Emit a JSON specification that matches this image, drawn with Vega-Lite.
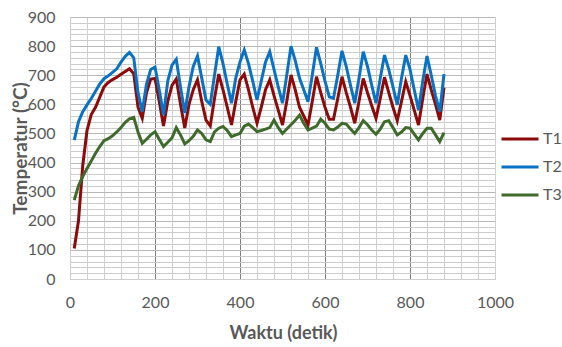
{
  "$schema": "https://vega.github.io/schema/vega-lite/v6.json",
  "width": 425,
  "height": 262,
  "autosize": {"type": "none"},
  "padding": {"left": 70, "top": 17, "right": 67, "bottom": 68},
  "background": "white",
  "config": {
    "view": {"stroke": null},
    "font": "Lato",
    "axis": {"labelFont": "Lato", "titleFont": "Lato"}
  },
  "data": {
    "values": [
      {"t": 10, "T1": 105, "T2": 477, "T3": 271},
      {"t": 20, "T1": 200, "T2": 540, "T3": 320},
      {"t": 30, "T1": 390, "T2": 575, "T3": 352},
      {"t": 40, "T1": 510, "T2": 598, "T3": 380},
      {"t": 50, "T1": 565, "T2": 620, "T3": 405},
      {"t": 60, "T1": 590, "T2": 645, "T3": 432},
      {"t": 70, "T1": 625, "T2": 670, "T3": 455},
      {"t": 80, "T1": 660, "T2": 688, "T3": 475},
      {"t": 90, "T1": 675, "T2": 698, "T3": 482},
      {"t": 100, "T1": 685, "T2": 710, "T3": 492},
      {"t": 110, "T1": 693, "T2": 722, "T3": 505},
      {"t": 120, "T1": 703, "T2": 745, "T3": 520},
      {"t": 130, "T1": 713, "T2": 765, "T3": 538},
      {"t": 140, "T1": 722, "T2": 778, "T3": 550},
      {"t": 150, "T1": 705, "T2": 760, "T3": 555},
      {"t": 160, "T1": 590, "T2": 640, "T3": 505},
      {"t": 170, "T1": 552, "T2": 575, "T3": 466},
      {"t": 180, "T1": 640, "T2": 670, "T3": 480},
      {"t": 190, "T1": 687, "T2": 720, "T3": 495},
      {"t": 200, "T1": 689, "T2": 728, "T3": 506},
      {"t": 210, "T1": 610, "T2": 650, "T3": 480},
      {"t": 220, "T1": 526, "T2": 563, "T3": 455},
      {"t": 230, "T1": 610, "T2": 680, "T3": 470},
      {"t": 240, "T1": 665, "T2": 735, "T3": 485},
      {"t": 250, "T1": 687, "T2": 755, "T3": 520},
      {"t": 260, "T1": 600, "T2": 660, "T3": 495},
      {"t": 270, "T1": 519, "T2": 570, "T3": 464},
      {"t": 280, "T1": 600, "T2": 660, "T3": 475},
      {"t": 290, "T1": 650, "T2": 730, "T3": 490},
      {"t": 300, "T1": 684, "T2": 766, "T3": 512},
      {"t": 310, "T1": 610, "T2": 690, "T3": 500},
      {"t": 320, "T1": 546, "T2": 615, "T3": 478},
      {"t": 330, "T1": 526, "T2": 600, "T3": 472},
      {"t": 340, "T1": 620, "T2": 700, "T3": 505},
      {"t": 350, "T1": 704, "T2": 798, "T3": 518},
      {"t": 360, "T1": 650, "T2": 740, "T3": 524},
      {"t": 370, "T1": 590, "T2": 670, "T3": 510},
      {"t": 380, "T1": 529, "T2": 604, "T3": 489},
      {"t": 390, "T1": 610, "T2": 690, "T3": 495},
      {"t": 400, "T1": 684, "T2": 746, "T3": 500},
      {"t": 410, "T1": 704, "T2": 787, "T3": 525},
      {"t": 420, "T1": 650, "T2": 740, "T3": 532},
      {"t": 430, "T1": 590, "T2": 680, "T3": 520},
      {"t": 440, "T1": 535, "T2": 615, "T3": 506},
      {"t": 450, "T1": 590, "T2": 680, "T3": 510},
      {"t": 460, "T1": 650, "T2": 745, "T3": 515},
      {"t": 470, "T1": 684, "T2": 781, "T3": 520},
      {"t": 480, "T1": 630, "T2": 720, "T3": 546},
      {"t": 490, "T1": 580, "T2": 660, "T3": 520},
      {"t": 500, "T1": 529, "T2": 604, "T3": 500},
      {"t": 510, "T1": 610, "T2": 700, "T3": 515},
      {"t": 520, "T1": 701, "T2": 800, "T3": 530},
      {"t": 530, "T1": 650, "T2": 750, "T3": 545},
      {"t": 540, "T1": 590, "T2": 690, "T3": 563},
      {"t": 550, "T1": 560, "T2": 650, "T3": 535},
      {"t": 560, "T1": 529, "T2": 609, "T3": 512},
      {"t": 570, "T1": 610, "T2": 700, "T3": 518},
      {"t": 580, "T1": 695, "T2": 796, "T3": 525},
      {"t": 590, "T1": 640, "T2": 740, "T3": 549},
      {"t": 600, "T1": 590, "T2": 680, "T3": 535},
      {"t": 610, "T1": 549, "T2": 626, "T3": 515},
      {"t": 620, "T1": 549, "T2": 621, "T3": 512},
      {"t": 630, "T1": 620, "T2": 700, "T3": 522},
      {"t": 640, "T1": 695, "T2": 784, "T3": 535},
      {"t": 650, "T1": 640, "T2": 730, "T3": 532},
      {"t": 660, "T1": 590, "T2": 665, "T3": 515},
      {"t": 670, "T1": 535, "T2": 604, "T3": 500},
      {"t": 680, "T1": 610, "T2": 690, "T3": 520},
      {"t": 690, "T1": 689, "T2": 781, "T3": 544},
      {"t": 700, "T1": 640, "T2": 730, "T3": 530},
      {"t": 710, "T1": 595, "T2": 665, "T3": 512},
      {"t": 720, "T1": 552, "T2": 604, "T3": 497},
      {"t": 730, "T1": 620, "T2": 690, "T3": 515},
      {"t": 740, "T1": 693, "T2": 769, "T3": 540},
      {"t": 750, "T1": 640, "T2": 720, "T3": 544},
      {"t": 760, "T1": 590, "T2": 660, "T3": 520},
      {"t": 770, "T1": 544, "T2": 598, "T3": 495},
      {"t": 780, "T1": 610, "T2": 690, "T3": 505},
      {"t": 790, "T1": 678, "T2": 769, "T3": 520},
      {"t": 800, "T1": 630, "T2": 720, "T3": 518},
      {"t": 810, "T1": 580, "T2": 650, "T3": 498},
      {"t": 820, "T1": 529, "T2": 580, "T3": 478},
      {"t": 830, "T1": 620, "T2": 680, "T3": 500},
      {"t": 840, "T1": 704, "T2": 766, "T3": 518},
      {"t": 850, "T1": 650, "T2": 700, "T3": 518},
      {"t": 860, "T1": 600, "T2": 630, "T3": 495},
      {"t": 870, "T1": 546, "T2": 575, "T3": 472},
      {"t": 880, "T1": 658, "T2": 704, "T3": 503}
    ]
  },
  "transform": [{"fold": ["T1", "T2", "T3"], "as": ["series", "value"]}],
  "mark": {"type": "line", "strokeWidth": 3, "strokeJoin": "miter", "strokeMiterLimit": 4},
  "encoding": {
    "x": {
      "field": "t",
      "type": "quantitative",
      "scale": {"domain": [0, 1000], "nice": false, "zero": true},
      "axis": {
        "title": "Waktu (detik)",
        "values": [0, 40, 80, 120, 160, 200, 240, 280, 320, 360, 400, 440, 480, 520, 560, 600, 640, 680, 720, 760, 800, 840, 880, 920, 960, 1000],
        "labelExpr": "datum.value % 200 === 0 ? datum.label : ''",
        "format": "d",
        "grid": true,
        "gridColor": {"condition": {"test": "datum.value % 200 === 0 && datum.value > 0 && datum.value < 1000", "value": "#808080"}, "value": "#cfcfcf"},
        "gridWidth": 1,
        "domain": true,
        "domainColor": "#cfcfcf",
        "ticks": false,
        "labelFontSize": 16,
        "labelColor": "#595959",
        "labelPadding": 15,
        "labelFlush": false,
        "labelOverlap": false,
        "titleFontSize": 18,
        "titleFontWeight": "bold",
        "titleColor": "#595959",
        "titleX": 213,
        "titleY": 54,
        "titleBaseline": "middle",
        "titleAlign": "center"
      }
    },
    "y": {
      "field": "value",
      "type": "quantitative",
      "scale": {"domain": [0, 900], "nice": false},
      "axis": {
        "title": "Temperatur (°C)",
        "values": [0, 20, 40, 60, 80, 100, 120, 140, 160, 180, 200, 220, 240, 260, 280, 300, 320, 340, 360, 380, 400, 420, 440, 460, 480, 500, 520, 540, 560, 580, 600, 620, 640, 660, 680, 700, 720, 740, 760, 780, 800, 820, 840, 860, 880, 900],
        "labelExpr": "datum.value % 100 === 0 ? datum.label : ''",
        "format": "d",
        "grid": true,
        "gridColor": {"condition": {"test": "datum.value % 100 === 0", "value": "#b8b8b8"}, "value": "#cccccc"},
        "gridWidth": 1,
        "domain": true,
        "domainColor": "#cfcfcf",
        "ticks": false,
        "labelFontSize": 16,
        "labelColor": "#595959",
        "labelPadding": 15,
        "labelOverlap": false,
        "labelFlush": false,
        "titleFontSize": 19,
        "titleFontWeight": "bold",
        "titleColor": "#595959",
        "titleAngle": -90,
        "titleX": -50,
        "titleY": 131,
        "titleAlign": "center",
        "titleBaseline": "middle"
      }
    },
    "color": {
      "field": "series",
      "type": "nominal",
      "scale": {"domain": ["T1", "T2", "T3"], "range": ["#8C0A0A", "#0A72C4", "#3E6B2B"]},
      "legend": {
        "title": null,
        "orient": "none",
        "legendX": 430,
        "legendY": 102,
        "symbolType": "stroke",
        "symbolSize": 1369,
        "symbolStrokeWidth": 3,
        "rowPadding": 0,
        "labelFontSize": 16,
        "labelColor": "#595959",
        "labelOffset": 3
      }
    }
  }
}
